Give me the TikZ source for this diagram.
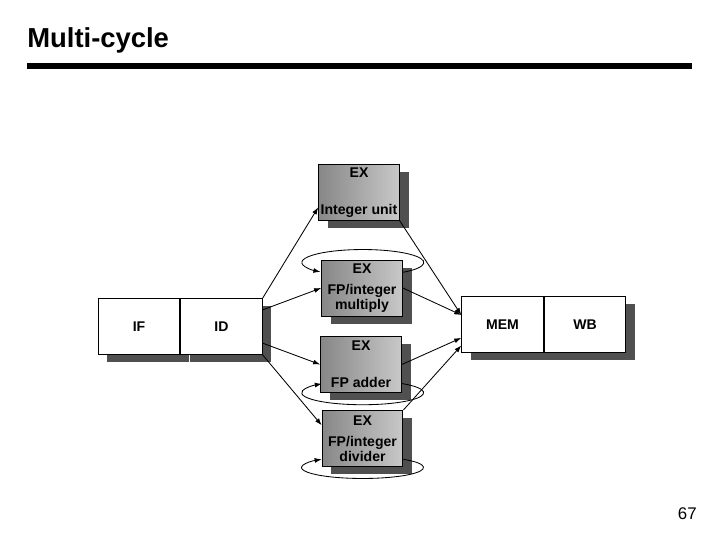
\documentclass[tikz,border=0pt]{standalone}
\usepackage{fontspec}
\setmainfont{Liberation Sans}
\setsansfont{Liberation Sans}
\usepackage{tikz}
\usetikzlibrary{shapes,arrows.meta,positioning,calc,shadows}
\usepackage{xcolor}
\definecolor{shadowgray}{RGB}{80,80,80}
\definecolor{exdark}{RGB}{135,135,135}
\definecolor{exlight}{RGB}{200,200,200}
\tikzset{
    stage/.style={rectangle, draw=black, fill=white, line width=0.6pt, minimum width=2.04cm, minimum height=1.4cm, inner sep=0pt, font=\fontsize{10}{11}\selectfont\bfseries},
    exunit/.style={rectangle, draw=black, line width=0.6pt, left color=exdark, right color=exlight, minimum width=2.02cm, minimum height=1.4cm, inner sep=0pt, align=center, font=\fontsize{10}{9}\selectfont\bfseries},
    boxshadow/.style={drop shadow={shadow xshift=0.23cm, shadow yshift=-0.19cm, fill=shadowgray, opacity=1}},
    flow/.style={line width=0.6pt, -{Latex[length=5pt,width=3.5pt]}},
    cycleloop/.style={line width=0.6pt, -{Latex[length=5pt,width=3.5pt]}},
}

\begin{document}
\begin{tikzpicture}[x=0.025cm, y=-0.025cm]
    \useasboundingbox (0,0) rectangle (720,540);

    % Title
    \node[anchor=base west, inner sep=0pt, font=\fontsize{19.5}{22}\selectfont\bfseries] (title) at (27,47) {Multi-cycle};
    \draw[line width=0.15cm] (27,66) -- (692,66);

    % Front and back stages
    \node[stage, boxshadow] (IF) at (139,326.5) {IF};
    \node[stage, boxshadow, right=0pt of IF] (ID) {ID};
    \node[stage, boxshadow] (MEM) at (502.5,324.5) {MEM};
    \node[stage, boxshadow, right=0pt of MEM] (WB) {WB};

    % EX units
    \node[exunit, boxshadow] (intg) at (359,192.5) {EX\\[0.61cm]Integer unit};
    \node[exunit, boxshadow] (mul) at (362,288) {EX\\[0.21cm]FP/integer\\multiply};
    \node[exunit, boxshadow] (add) at (361,364.5) {EX\\[0.61cm]FP adder};
    \node[exunit, boxshadow] (div) at (362.5,438.5) {EX\\[0.21cm]FP/integer\\divider};

    % Repeat loops
    \draw[cycleloop] (mul.21) arc[start angle=49, end angle=-226, x radius=61, y radius=13];
    \draw[cycleloop] (add.335) arc[start angle=-50, end angle=228, x radius=61, y radius=12];
    \draw[cycleloop] (div.333) arc[start angle=-48, end angle=228, x radius=61, y radius=11];

    % Issue and completion
    \foreach \unit/\from/\to in {intg/north east/200, mul/22/west, add/338/west, div/south east/162} {
        \draw[flow] (ID.\from) -- (\unit.\to);
    }
    \foreach \unit/\from/\to in {intg/south east/167, mul/east/167, add/east/198, div/north east/207} {
        \draw[flow] (\unit.\from) -- (MEM.\to);
    }

    \node[anchor=base east, inner sep=0pt, font=\fontsize{12}{14}\selectfont] (pagenum) at (697,519) {67};
\end{tikzpicture}
\end{document}
